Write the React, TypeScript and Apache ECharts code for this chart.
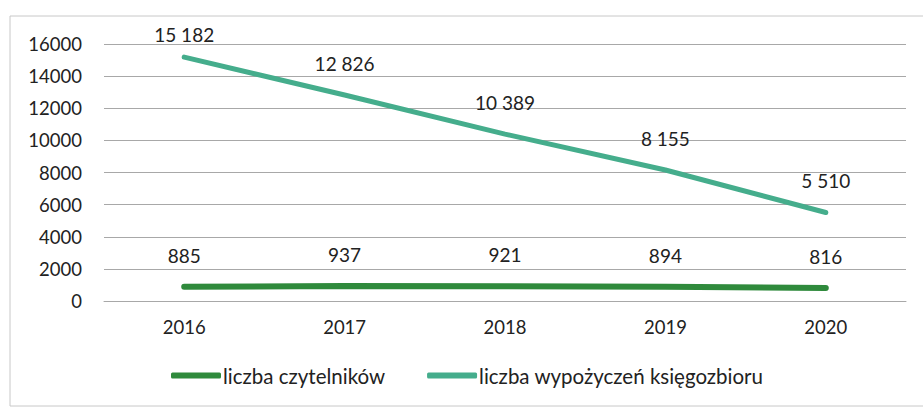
import React, { useEffect, useRef } from "react";
import * as echarts from "echarts";

const years = ["2016", "2017", "2018", "2019", "2020"];
const readers = [885, 937, 921, 894, 816];
const loans = [15182, 12826, 10389, 8155, 5510];
const seriesNames = ["liczba czytelników", "liczba wypożyczeń księgozbioru"];

const fmt = (v: number) => {
  const s = String(v);
  return s.length > 3 ? s.slice(0, s.length - 3) + " " + s.slice(s.length - 3) : s;
};

export default function App() {
  const ref = useRef<HTMLDivElement>(null);
  useEffect(() => {
    const chart = echarts.init(ref.current!, undefined, { renderer: "svg" });
    const font = "Lato, 'Open Sans', sans-serif";
    const labelBase = {
      show: true,
      position: "top",
      fontSize: 19,
      color: "#222",
      fontFamily: font,
      formatter: (p: any) => fmt(p.value),
    };
    chart.setOption({
      animation: false,
      backgroundColor: "#ffffff",
      textStyle: { fontFamily: font },
      graphic: [
        {
          type: "rect",
          shape: { x: 10, y: 16, width: 930, height: 390 },
          style: { fill: "none", stroke: "#c8c8c8", lineWidth: 1 },
          silent: true,
        },
      ],
      grid: { left: 104, right: 17, top: 44, bottom: 109 },
      legend: {
        bottom: 19,
        left: 166,
        itemWidth: 50,
        itemHeight: 6,
        itemGap: 42,
        icon: "roundRect",
        textStyle: { fontSize: 20.5, color: "#222", fontFamily: font, padding: [0, 0, 0, -3] },
        data: seriesNames,
      },
      xAxis: {
        type: "category",
        data: years,
        boundaryGap: true,
        axisLine: { show: true, lineStyle: { color: "#a8a8a8", width: 1 } },
        axisTick: { show: false },
        axisLabel: { fontSize: 18.5, color: "#222", margin: 16, fontFamily: font },
      },
      yAxis: {
        type: "value",
        min: 0,
        max: 16000,
        interval: 2000,
        axisLine: { show: false },
        axisTick: { show: false },
        axisLabel: {
          fontSize: 18.5,
          color: "#222",
          margin: 22,
          fontFamily: font,
          formatter: (v: number) => String(v),
        },
        splitLine: { lineStyle: { color: "#a8a8a8", width: 1 } },
      },
      series: [
        {
          name: seriesNames[0],
          type: "line",
          data: readers,
          symbol: "circle",
          symbolSize: 0.1,
          showSymbol: true,
          lineStyle: { color: "#2f8a3c", width: 6, cap: "round" },
          itemStyle: { color: "#2f8a3c" },
          label: { ...labelBase, distance: 22 },
        },
        {
          name: seriesNames[1],
          type: "line",
          data: loans.map((v, i) =>
            i === 0 ? { value: v, label: { distance: 13 } } : v
          ),
          symbol: "circle",
          symbolSize: 0.1,
          showSymbol: true,
          lineStyle: { color: "#45ad8c", width: 5, cap: "round" },
          itemStyle: { color: "#45ad8c" },
          label: { ...labelBase, distance: 22 },
        },
      ],
    });
    return () => chart.dispose();
  }, []);
  return (
    <div
      ref={ref}
      style={{ position: "fixed", left: 0, top: 0, width: 923, height: 410 }}
    />
  );
}
